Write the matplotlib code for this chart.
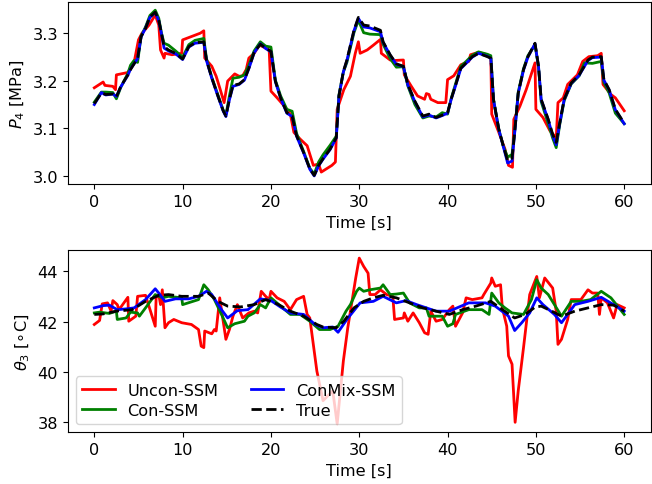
import matplotlib.pyplot as plt

plt.rcParams["font.size"] = 11.6

# ---- top panel: P_4 [MPa] ----
t_true_p = [0, 0.8, 1.3, 2.1, 2.5, 3.0, 3.8, 4.1, 4.9, 5.3, 5.8, 6.3, 6.9, 7.3, 7.6, 7.9, 8.4, 9.2, 10.0,
            10.7, 11.4, 12.4, 12.7, 13.3, 14.0, 14.6, 14.9, 15.3, 15.7, 16.4, 17.0, 17.5, 18.1, 18.8, 19.4,
            20.0, 20.5, 21.1, 21.8, 22.4, 22.9, 23.7, 24.4, 24.9, 25.4, 25.9, 26.7, 27.4, 27.7, 28.2, 28.6,
            29.4, 29.9, 30.5, 31.2, 32.4, 32.7, 33.5, 34.2, 35.0, 35.5, 36.3, 37.2, 37.9, 38.7, 39.4, 40.0,
            40.4, 40.9, 41.5, 42.1, 42.8, 43.5, 44.5, 44.9, 45.2, 45.8, 46.3, 46.8, 47.3, 47.6, 48.0, 48.6,
            49.1, 49.9, 50.3, 50.6, 51.4, 51.9, 52.3, 52.7, 53.2, 54.0, 54.9, 55.9, 56.4, 57.4, 57.7, 58.3,
            59.0, 60.0]
p_true = [3.152, 3.174, 3.171, 3.172, 3.166, 3.188, 3.212, 3.223, 3.247, 3.292, 3.309, 3.333, 3.343, 3.326,
          3.299, 3.271, 3.264, 3.257, 3.245, 3.271, 3.279, 3.281, 3.243, 3.206, 3.168, 3.137, 3.126, 3.161,
          3.190, 3.193, 3.202, 3.226, 3.259, 3.276, 3.268, 3.261, 3.199, 3.164, 3.133, 3.126, 3.085, 3.050,
          3.016, 3.002, 3.023, 3.037, 3.057, 3.081, 3.168, 3.219, 3.243, 3.305, 3.332, 3.316, 3.314, 3.305,
          3.281, 3.254, 3.235, 3.230, 3.192, 3.157, 3.126, 3.130, 3.123, 3.128, 3.133, 3.161, 3.190, 3.226,
          3.237, 3.250, 3.257, 3.250, 3.247, 3.161, 3.099, 3.064, 3.033, 3.038, 3.092, 3.174, 3.223, 3.250,
          3.278, 3.230, 3.161, 3.119, 3.088, 3.071, 3.112, 3.161, 3.195, 3.212, 3.243, 3.249, 3.250, 3.202,
          3.181, 3.140, 3.111]

t_blue_p = [0, 0.8, 1.3, 2.1, 2.5, 3.0, 3.8, 4.1, 4.9, 5.3, 5.8, 6.3, 6.9, 7.3, 7.6, 7.9, 8.4, 9.2, 10.0,
            10.7, 11.4, 12.4, 12.7, 13.3, 14.0, 14.6, 14.9, 15.3, 15.7, 16.4, 17.0, 17.5, 18.1, 18.8, 19.4,
            20.0, 20.5, 21.1, 21.8, 22.4, 22.9, 23.7, 24.4, 24.9, 25.4, 25.9, 26.7, 27.4, 27.7, 28.2, 28.6,
            29.4, 29.9, 30.5, 31.2, 32.4, 32.7, 33.5, 34.2, 35.0, 35.5, 36.3, 37.2, 37.9, 38.7, 39.4, 40.0,
            40.4, 40.9, 41.5, 42.1, 42.8, 43.5, 44.5, 44.9, 45.2, 45.8, 46.3, 46.8, 47.3, 47.6, 48.0, 48.6,
            49.1, 49.9, 50.3, 50.6, 51.4, 51.9, 52.3, 52.7, 53.2, 54.0, 54.9, 55.9, 56.4, 57.4, 57.7, 58.3,
            59.0, 60.0]
p_blue = [3.150, 3.175, 3.170, 3.172, 3.167, 3.187, 3.211, 3.224, 3.246, 3.291, 3.310, 3.332, 3.342, 3.325,
          3.298, 3.268, 3.262, 3.256, 3.244, 3.270, 3.278, 3.280, 3.242, 3.205, 3.167, 3.136, 3.125, 3.160,
          3.188, 3.192, 3.201, 3.225, 3.258, 3.277, 3.267, 3.260, 3.198, 3.163, 3.132, 3.125, 3.084, 3.049,
          3.015, 3.001, 3.022, 3.036, 3.056, 3.080, 3.167, 3.218, 3.242, 3.304, 3.330, 3.312, 3.310, 3.302,
          3.280, 3.253, 3.234, 3.229, 3.191, 3.156, 3.124, 3.128, 3.122, 3.127, 3.132, 3.160, 3.189, 3.225,
          3.236, 3.249, 3.257, 3.251, 3.246, 3.160, 3.098, 3.063, 3.028, 3.032, 3.091, 3.173, 3.222, 3.249,
          3.277, 3.229, 3.160, 3.118, 3.085, 3.066, 3.111, 3.160, 3.194, 3.211, 3.242, 3.248, 3.249, 3.201,
          3.180, 3.139, 3.110]

t_green_p = [0, 0.8, 1.3, 2.1, 2.5, 3.0, 3.8, 4.1, 4.5, 4.9, 5.3, 5.8, 6.3, 6.9, 7.3, 7.6, 7.9, 8.4, 9.2,
             10.0, 10.7, 11.4, 12.4, 12.7, 13.3, 14.0, 14.6, 14.9, 15.3, 15.7, 16.4, 17.0, 17.5, 18.1, 18.8,
             19.4, 20.0, 20.5, 21.1, 21.8, 22.4, 22.9, 23.7, 24.4, 24.9, 25.4, 25.9, 26.7, 27.4, 27.7, 28.2,
             28.6, 29.4, 29.9, 30.5, 31.2, 32.4, 32.7, 33.5, 34.2, 35.0, 35.5, 36.3, 37.2, 37.9, 38.7, 39.4,
             40.0, 40.4, 40.9, 41.5, 42.1, 42.8, 43.5, 44.5, 44.9, 45.2, 45.8, 46.3, 46.8, 47.3, 47.6, 48.0,
             48.6, 49.1, 49.9, 50.3, 50.6, 51.4, 51.9, 52.3, 52.7, 53.2, 54.0, 54.9, 55.5, 56.4, 57.4, 57.7,
             58.3, 59.0, 60.0]
p_green = [3.155, 3.176, 3.176, 3.175, 3.162, 3.186, 3.215, 3.232, 3.242, 3.238, 3.293, 3.312, 3.336, 3.347,
           3.330, 3.300, 3.278, 3.274, 3.262, 3.249, 3.275, 3.284, 3.288, 3.246, 3.207, 3.170, 3.138, 3.128,
           3.168, 3.205, 3.207, 3.212, 3.232, 3.262, 3.281, 3.272, 3.270, 3.201, 3.168, 3.140, 3.136, 3.090,
           3.052, 3.017, 3.005, 3.030, 3.045, 3.065, 3.084, 3.170, 3.218, 3.238, 3.300, 3.326, 3.300, 3.297,
           3.296, 3.276, 3.246, 3.228, 3.229, 3.189, 3.150, 3.122, 3.126, 3.124, 3.133, 3.130, 3.162, 3.193,
           3.230, 3.240, 3.253, 3.260, 3.255, 3.252, 3.160, 3.098, 3.064, 3.040, 3.046, 3.094, 3.176, 3.225,
           3.252, 3.275, 3.228, 3.156, 3.110, 3.080, 3.060, 3.108, 3.158, 3.193, 3.210, 3.237, 3.236, 3.240,
           3.196, 3.174, 3.132, 3.110]

t_red_p = [0, 1.0, 1.2, 2.1, 2.4, 2.5, 3.8, 4.5, 5.0, 5.4, 6.2, 6.9, 7.3, 7.5, 7.9, 8.0, 8.8, 9.9, 10.0,
           11.0, 12.0, 12.4, 12.5, 13.3, 13.8, 14.2, 14.7, 15.1, 15.9, 16.4, 16.8, 17.2, 17.5, 18.1, 18.7,
           19.4, 19.8, 20.0, 20.7, 21.5, 22.2, 22.6, 23.3, 24.1, 24.8, 25.4, 25.7, 26.3, 26.9, 27.3, 27.5,
           28.25, 29.0, 29.55, 29.9, 30.1, 30.9, 31.6, 32.4, 32.5, 33.5, 34.0, 35.0, 35.1, 35.9, 36.6, 37.4,
           37.6, 37.9, 38.1, 38.9, 39.8, 40.0, 40.7, 41.5, 42.4, 42.6, 43.5, 44.5, 44.9, 45.0, 45.8, 46.5,
           46.9, 47.35, 47.5, 48.2, 48.9, 49.9, 50.0, 50.8, 51.6, 52.1, 52.3, 52.5, 53.1, 53.6, 54.7, 55.3,
           56.0, 57.0, 57.4, 57.6, 58.5, 59.0, 60.0]
p_red = [3.185, 3.197, 3.190, 3.188, 3.181, 3.212, 3.217, 3.237, 3.285, 3.299, 3.316, 3.337, 3.316, 3.264,
         3.247, 3.257, 3.254, 3.257, 3.285, 3.292, 3.299, 3.304, 3.247, 3.230, 3.209, 3.185, 3.154, 3.199,
         3.214, 3.209, 3.210, 3.223, 3.247, 3.257, 3.274, 3.268, 3.264, 3.178, 3.164, 3.147, 3.130, 3.092,
         3.078, 3.064, 3.023, 3.026, 3.009, 3.016, 3.023, 3.030, 3.140, 3.181, 3.209, 3.257, 3.281, 3.257,
         3.264, 3.274, 3.286, 3.257, 3.243, 3.242, 3.243, 3.212, 3.188, 3.168, 3.161, 3.173, 3.171, 3.161,
         3.154, 3.154, 3.202, 3.210, 3.233, 3.240, 3.254, 3.259, 3.254, 3.247, 3.130, 3.092, 3.057, 3.023,
         3.019, 3.119, 3.147, 3.181, 3.237, 3.140, 3.123, 3.095, 3.085, 3.078, 3.154, 3.164, 3.192, 3.212,
         3.240, 3.250, 3.252, 3.257, 3.192, 3.171, 3.164, 3.137]

# ---- bottom panel: theta_3 [C] ----
t_true_th = [0, 1.0, 2.5, 4.3, 5.8, 7.3, 8.4, 9.9, 11.8, 12.9, 14.0, 15.1, 16.6, 18.1, 19.4, 20.7, 22.2,
             23.7, 25.2, 25.9, 27.4, 28.25, 29.4, 30.5, 31.6, 32.7, 34.2, 35.7, 37.2, 38.7, 40.2, 41.7,
             43.2, 44.9, 46.2, 47.6, 48.8, 49.9, 50.6, 51.8, 52.9, 54.4, 55.9, 57.4, 58.8, 60.0]
th_true = [42.29, 42.31, 42.42, 42.48, 42.81, 43.05, 43.08, 43.01, 43.01, 43.14, 42.81, 42.62, 42.59,
           42.68, 42.88, 42.71, 42.42, 42.22, 41.89, 41.79, 41.76, 42.02, 42.55, 42.81, 42.95, 43.05,
           42.95, 42.75, 42.55, 42.42, 42.29, 42.48, 42.62, 42.81, 42.48, 42.15, 42.29, 42.58, 42.62,
           42.42, 42.22, 42.42, 42.55, 42.68, 42.66, 42.42]

t_blue_th = [0, 1.0, 1.7, 2.6, 3.6, 4.5, 5.8, 6.9, 7.3, 8.0, 9.2, 10.7, 11.8, 12.7, 13.3, 14.4, 15.1, 16.2,
             17.4, 18.8, 20.0, 21.1, 22.2, 23.7, 25.0, 25.9, 27.0, 27.6, 28.6, 30.1, 31.6, 32.7, 34.2,
             35.3, 36.5, 38.7, 40.2, 42.4, 44.3, 45.4, 46.9, 47.6, 48.4, 49.3, 50.1, 50.8, 52.1, 52.9,
             53.6, 54.4, 55.9, 57.4, 58.8, 60.0]
th_blue = [42.55, 42.64, 42.66, 42.48, 42.51, 42.55, 42.88, 43.31, 43.14, 42.81, 42.91, 42.91, 43.01,
           43.21, 43.08, 42.48, 42.15, 42.44, 42.48, 42.91, 42.84, 42.58, 42.35, 42.29, 41.89, 41.76,
           41.79, 41.58, 42.09, 42.75, 42.81, 43.01, 42.75, 42.84, 42.68, 42.42, 42.42, 42.75, 42.75,
           42.62, 42.22, 41.65, 41.96, 42.35, 42.95, 42.68, 42.29, 41.96, 42.29, 42.68, 42.81, 42.97,
           42.68, 42.42]

t_green_th = [0, 0.6, 1.7, 2.5, 2.6, 3.6, 4.1, 4.9, 5.1, 5.8, 6.9, 7.7, 8.4, 9.9, 10.0, 11.8, 12.4, 12.9,
              13.6, 14.4, 15.1, 15.9, 17.0, 17.4, 18.1, 18.8, 19.4, 20.0, 21.1, 22.2, 23.3, 24.4, 25.5,
              26.7, 27.6, 28.5, 29.0, 29.7, 30.0, 30.5, 31.2, 32.4, 32.7, 33.5, 34.2, 35.0, 35.7, 36.8,
              37.6, 37.9, 39.4, 40.0, 40.6, 40.9, 42.4, 43.9, 44.7, 45.0, 45.8, 46.5, 47.3, 48.6, 49.5,
              50.1, 50.6, 51.4, 52.1, 52.9, 54.0, 55.1, 56.2, 57.4, 58.5, 60.0]
th_green = [42.35, 42.38, 42.33, 42.42, 42.09, 42.15, 42.38, 42.35, 42.22, 42.55, 43.08, 42.95, 43.01,
            42.95, 42.68, 42.88, 43.47, 43.27, 42.88, 42.29, 41.76, 41.92, 42.02, 42.22, 42.35, 42.68,
            42.55, 42.95, 42.62, 42.29, 42.29, 42.02, 41.69, 41.69, 41.82, 42.42, 42.68, 43.21, 43.34,
            43.21, 43.27, 43.34, 43.47, 43.08, 43.10, 43.14, 42.75, 42.55, 42.55, 42.22, 42.22, 41.82,
            41.92, 42.29, 42.48, 42.48, 42.29, 43.14, 42.75, 42.55, 42.35, 42.29, 42.88, 43.67, 43.34,
            43.08, 42.68, 42.22, 42.81, 42.81, 42.88, 43.21, 42.95, 42.29]

t_red_th = [0, 0.6, 0.9, 1.5, 1.9, 2.1, 2.6, 2.8, 3.8, 3.9, 4.7, 4.9, 5.8, 6.9, 7.0, 7.3, 7.5, 7.7, 8.0,
            8.4, 9.0, 9.9, 11.0, 11.8, 12.1, 12.4, 12.5, 13.3, 13.6, 13.8, 14.2, 14.9, 15.3, 15.7, 16.2,
            16.8, 17.5, 18.1, 18.5, 18.9, 19.4, 19.8, 20.0, 20.7, 21.5, 22.2, 22.9, 23.7, 24.1, 24.4,
            25.2, 25.9, 27.0, 27.5, 28.2, 28.7, 29.6, 30.0, 30.5, 31.0, 31.2, 31.8, 32.4, 33.1, 33.8,
            34.0, 35.0, 35.1, 35.5, 36.1, 36.8, 37.4, 37.8, 38.1, 38.7, 39.4, 40.2, 40.6, 40.9, 41.7,
            42.1, 42.8, 43.9, 44.1, 44.9, 45.0, 45.4, 46.0, 46.2, 46.7, 46.9, 47.3, 47.65, 48.0, 48.6,
            49.3, 50.1, 50.4, 51.0, 51.9, 52.3, 52.5, 52.9, 53.6, 54.0, 55.1, 55.9, 56.4, 57.0, 57.2,
            57.4, 58.1, 58.8, 59.2, 60.0]
th_red = [41.89, 42.05, 42.71, 42.75, 42.42, 42.84, 42.68, 42.48, 42.97, 42.02, 42.22, 43.01, 43.05,
          41.82, 42.95, 43.08, 42.68, 43.27, 41.76, 41.96, 42.09, 41.96, 41.89, 41.69, 41.03, 40.97,
          41.63, 41.52, 41.69, 41.63, 42.95, 41.30, 41.69, 42.22, 42.68, 42.15, 42.35, 42.42, 42.35,
          43.21, 43.01, 42.88, 43.21, 42.95, 42.81, 42.48, 42.88, 43.01, 42.29, 42.15, 40.04, 38.86,
          39.25, 37.94, 40.44, 41.76, 43.74, 44.53, 44.20, 43.93, 43.08, 43.08, 43.27, 43.08, 43.01,
          42.09, 42.15, 42.35, 42.02, 42.35, 41.96, 41.56, 41.50, 42.42, 42.02, 42.09, 42.48, 42.62,
          41.82, 42.35, 42.95, 42.88, 42.95, 43.08, 43.54, 43.74, 43.41, 43.47, 42.55, 41.82, 40.64,
          40.31, 38.00, 39.25, 40.97, 43.08, 43.80, 42.95, 43.74, 43.34, 42.42, 41.10, 41.30, 42.09,
          42.88, 42.88, 43.27, 43.14, 43.14, 42.29, 42.95, 42.75, 42.15, 42.68, 42.55]


fig, axs = plt.subplots(2, 1, figsize=(6.52, 4.85), dpi=100)

axs[0].plot(t_red_p, p_red, color="red", linewidth=2)
axs[0].plot(t_green_p, p_green, color="green", linewidth=2)
axs[0].plot(t_blue_p, p_blue, color="blue", linewidth=2)
axs[0].plot(t_true_p, p_true, color="black", linewidth=2, linestyle="--")
axs[0].set_xlabel("Time [s]")
axs[0].set_ylabel("$P_4$ [MPa]")

axs[1].plot(t_red_th, th_red, color="red", linewidth=2, label="Uncon-SSM")
axs[1].plot(t_green_th, th_green, color="green", linewidth=2, label="Con-SSM")
axs[1].plot(t_blue_th, th_blue, color="blue", linewidth=2, label="ConMix-SSM")
axs[1].plot(t_true_th, th_true, color="black", linewidth=2, linestyle="--", label="True")
axs[1].set_xlabel("Time [s]")
axs[1].set_ylabel(r"$\theta_3$ [$\circ$C]")
axs[1].set_yticks([38, 40, 42, 44])
axs[1].legend(loc="lower left", ncol=2, labelspacing=0.3)

plt.subplots_adjust(left=0.104, right=0.998, top=0.994, bottom=0.107, hspace=0.36)
plt.savefig("out.png")
